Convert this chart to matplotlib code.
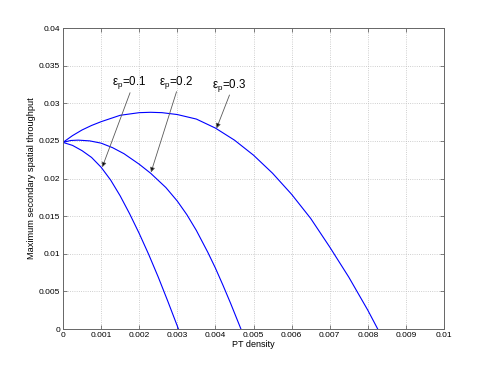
import numpy as np
import matplotlib
matplotlib.use("Agg")
import matplotlib.pyplot as plt

plt.rcParams['font.family'] = ['Liberation Sans', 'DejaVu Sans']
plt.rcParams['mathtext.fontset'] = 'custom'
plt.rcParams['mathtext.rm'] = 'Liberation Sans'
plt.rcParams['mathtext.it'] = 'Liberation Sans'

# curves (PT density vs max secondary spatial throughput)
x_01 = [0, 0.00025, 0.0005, 0.00075, 0.001, 0.00125, 0.0015, 0.00175, 0.002, 0.00225, 0.0025, 0.00275, 0.00303]
y_01 = [0.0248, 0.0244, 0.0237, 0.0228, 0.0215, 0.0198, 0.0177, 0.0153, 0.0127, 0.0099, 0.0069, 0.0037, 0.0]

x_02 = [0, 0.0002, 0.0004, 0.0007, 0.001, 0.0013, 0.0016, 0.002, 0.0023, 0.0027, 0.003, 0.00325,
        0.0035, 0.0038, 0.004, 0.0042, 0.0044, 0.00467]
y_02 = [0.0248, 0.02505, 0.0251, 0.025, 0.0247, 0.0241, 0.0233, 0.0219, 0.0207, 0.0188, 0.017, 0.0152,
        0.0131, 0.0102, 0.0081, 0.0058, 0.0034, 0.0]

x_03 = [0, 0.00025, 0.0005, 0.00075, 0.001, 0.0015, 0.002, 0.0023, 0.0026, 0.003, 0.0035, 0.004,
        0.0045, 0.005, 0.0055, 0.006, 0.0065, 0.007, 0.0075, 0.008, 0.00826]
y_03 = [0.0248, 0.0257, 0.02645, 0.02705, 0.02755, 0.0284, 0.02875, 0.0288, 0.02875, 0.0285, 0.0279, 0.0267,
        0.0251, 0.0231, 0.0207, 0.0179, 0.0147, 0.0109, 0.0069, 0.0025, 0.0]

labels = ['0.1', '0.2', '0.3']
arrow_from = [(0.00176, 0.0314), (0.00298, 0.03154), (0.00437, 0.0311)]
arrow_to = [(0.00103, 0.0215), (0.00231, 0.02082), (0.00403, 0.02667)]
text_pos = [(0.00174, 0.0324), (0.00298, 0.0324), (0.00437, 0.0321)]

fig = plt.figure(figsize=(4.91, 3.70), dpi=100)
ax = fig.add_axes([0.1283, 0.1108, 0.776, 0.8135])

for xs, ys in [(x_01, y_01), (x_02, y_02), (x_03, y_03)]:
    ax.plot(xs, ys, color='#0000ff', lw=0.8)

for lab, (tx, ty), (ax0, ay0), (ax1, ay1) in zip(labels, text_pos, arrow_from, arrow_to):
    ax.annotate('', xy=(ax1, ay1), xytext=(ax0, ay0),
                arrowprops=dict(arrowstyle='-|>', color='0.35', lw=0.6,
                                mutation_scale=7, shrinkA=0, shrinkB=0,
                                fc='black', ec='0.35'))
    ax.text(tx, ty, r'$\mathregular{\varepsilon_p}$=' + lab, fontsize=8.3,
            ha='center', va='baseline')

ax.set_xlim(0, 0.01)
ax.set_ylim(0, 0.04)
ax.set_xticks(np.arange(0, 0.0101, 0.001))
ax.set_yticks(np.arange(0, 0.0401, 0.005))
ax.set_xticklabels(['0', '0.001', '0.002', '0.003', '0.004', '0.005', '0.006',
                    '0.007', '0.008', '0.009', '0.01'])
ax.set_yticklabels(['0', '0.005', '0.01', '0.015', '0.02', '0.025', '0.03', '0.035', '0.04'])
ax.tick_params(direction='in', length=3, width=0.5, labelsize=6, top=True, right=True,
               colors='0.3', labelcolor='black', pad=2)
ax.grid(True, ls=':', color='0.75', lw=0.6)
for s in ax.spines.values():
    s.set_color('0.4')
    s.set_linewidth(0.7)

ax.set_xlabel('PT density', fontsize=6.5, labelpad=1)
ax.set_ylabel('Maximum secondary spatial throughput', fontsize=6.7, labelpad=2)

fig.savefig('out.png', dpi=100)
